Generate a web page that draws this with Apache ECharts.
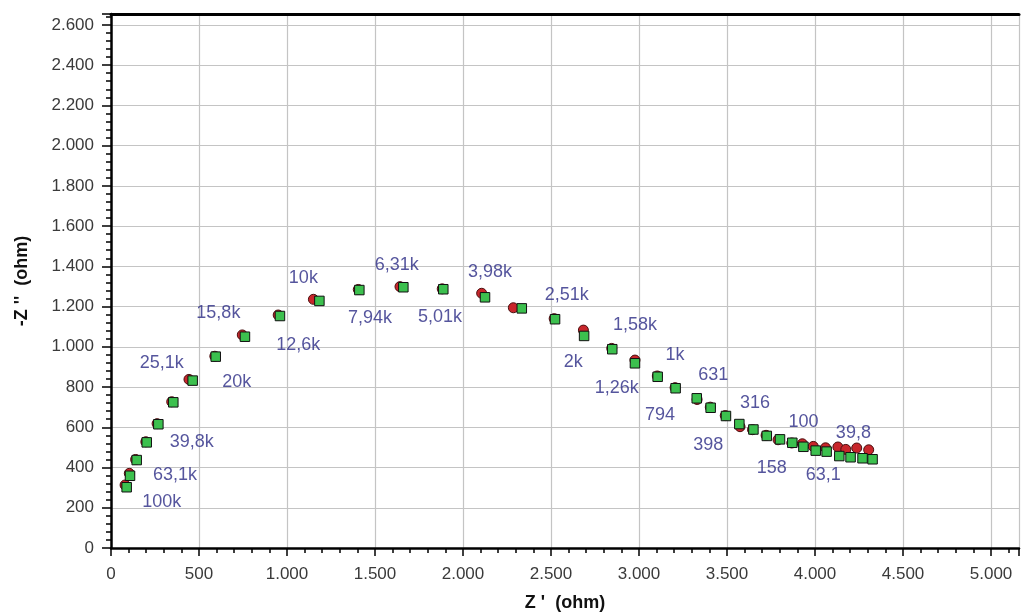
<!DOCTYPE html>
<html>
<head>
<meta charset="utf-8">
<script src="https://cdn.jsdelivr.net/npm/echarts@6/dist/echarts.min.js"></script>
<style>
  html, body { margin: 0; padding: 0; background: #fff; }
  #chart { width: 1021px; height: 616px; }
</style>
</head>
<body>
<div id="chart"></div>
<script>
// Nyquist data, Z' and -Z'' in ohm
// measured series (green squares)
const zRealGreen = [89, 108, 146, 203, 269, 354, 464, 595, 761, 960, 1184, 1411, 1661, 1888, 2125, 2334, 2523, 2688, 2848, 2977, 3106, 3208, 3328, 3407, 3494, 3570, 3650, 3726, 3801, 3871, 3934, 4004, 4066, 4138, 4202, 4270, 4327];
const zImagGreen = [302, 359, 437, 525, 615, 724, 832, 951, 1050, 1153, 1228, 1282, 1296, 1286, 1246, 1191, 1137, 1054, 988, 918, 851, 794, 744, 697, 656, 616, 589, 557, 540, 523, 503, 484, 479, 457, 451, 446, 441];
// second series (red circles)
const zRealRed = [80, 104, 140, 198, 262, 345, 443, 590, 746, 950, 1150, 1405, 1642, 1882, 2106, 2286, 2518, 2684, 2845, 2977, 3104, 3205, 3330, 3405, 3490, 3574, 3645, 3722, 3790, 3868, 3928, 3990, 4060, 4130, 4175, 4237, 4305];
const zImagRed = [313, 371, 440, 528, 618, 727, 838, 953, 1059, 1158, 1236, 1285, 1299, 1288, 1266, 1194, 1140, 1083, 992, 934, 855, 797, 738, 700, 658, 603, 588, 560, 538, 522, 518, 505, 498, 502, 490, 497, 488];

// frequency annotations
const freqText = ['100k', '63,1k', '39,8k', '25,1k', '20k', '15,8k', '12,6k', '10k', '7,94k', '6,31k', '5,01k', '3,98k', '2,51k', '2k', '1,58k', '1,26k', '1k', '631', '794', '398', '316', '158', '100', '63,1', '39,8'];
const freqX = [288, 364, 459, 288, 714, 610, 1064, 1093, 1472, 1623, 1869, 2153, 2589, 2627, 2977, 2873, 3205, 3422, 3119, 3394, 3659, 3754, 3934, 4047, 4218];
const freqY = [230, 363, 528, 921, 827, 1166, 1009, 1340, 1142, 1407, 1147, 1373, 1257, 926, 1108, 795, 959, 860, 661, 512, 719, 396, 628, 363, 570];

const fmt = v => String(v).replace(/\B(?=(\d{3})+(?!\d))/g, '.');

const green = zRealGreen.map((x, i) => [x, zImagGreen[i]]);
const red = zRealRed.map((x, i) => [x, zImagRed[i]]);
const labels = freqText.map((t, i) => ({ name: t, value: [freqX[i], freqY[i]] }));

const chart = echarts.init(document.getElementById('chart'));
const font = '"Liberation Sans", Arial, sans-serif';

chart.setOption({
  animation: false,
  backgroundColor: '#fff',
  grid: { left: 111, right: 2, top: 14, bottom: 68, outerBoundsMode: 'none' },
  xAxis: [{
    type: 'value',
    min: 0, max: 5159, interval: 500,
    name: "Z '  (ohm)",
    nameLocation: 'middle',
    nameGap: 46,
    nameTextStyle: { fontFamily: font, fontSize: 18, fontWeight: 'bold', color: '#111' },
    axisLine: { onZero: false, lineStyle: { color: '#000', width: 2.5 } },
    axisTick: { length: 8, lineStyle: { color: '#000', width: 1.5 } },
    minorTick: { show: true, splitNumber: 5, length: 5, lineStyle: { color: '#000', width: 1.5 } },
    splitLine: { lineStyle: { color: '#c4c4c4', width: 1.2 } },
    axisLabel: { showMaxLabel: false, margin: 18, fontFamily: font, fontSize: 17, color: '#3a3a3a', formatter: fmt }
  }, {
    type: 'value', position: 'top',
    min: 0, max: 5159,
    axisLine: { show: true, onZero: false, lineStyle: { color: '#000', width: 3 } },
    axisTick: { show: false }, axisLabel: { show: false }, splitLine: { show: false }
  }],
  yAxis: {
    type: 'value',
    min: 0, max: 2654, interval: 200,
    name: "-Z ''  (ohm)",
    nameLocation: 'middle',
    nameGap: 80,
    nameRotate: 90,
    nameTextStyle: { fontFamily: font, fontSize: 18, fontWeight: 'bold', color: '#111' },
    axisLine: { show: true, onZero: false, lineStyle: { color: '#000', width: 2.5 } },
    axisTick: { length: 9, lineStyle: { color: '#000', width: 1.5 } },
    minorTick: { show: true, splitNumber: 5, length: 5, lineStyle: { color: '#000', width: 1.5 } },
    splitLine: { lineStyle: { color: '#c4c4c4', width: 1.2 } },
    axisLabel: { showMaxLabel: false, margin: 17, fontFamily: font, fontSize: 17, color: '#3a3a3a', formatter: fmt }
  },
  series: [{
    name: 'red',
    type: 'scatter',
    data: red,
    symbol: 'circle',
    symbolSize: 10,
    itemStyle: { color: '#c8262b', borderColor: '#4a1010', borderWidth: 1, opacity: 1 }
  }, {
    name: 'green',
    type: 'scatter',
    data: green,
    symbol: 'rect',
    symbolSize: 9.5,
    itemStyle: { color: '#3cc04e', borderColor: '#111', borderWidth: 1, opacity: 1 }
  }, {
    name: 'freq',
    type: 'scatter',
    data: labels,
    symbolSize: 1,
    itemStyle: { color: 'rgba(0,0,0,0)' },
    label: {
      show: true,
      position: 'inside',
      formatter: p => p.name,
      fontFamily: font,
      fontSize: 18,
      color: '#2a2a85'
    },
    silent: true
  }]
});
</script>
</body>
</html>
